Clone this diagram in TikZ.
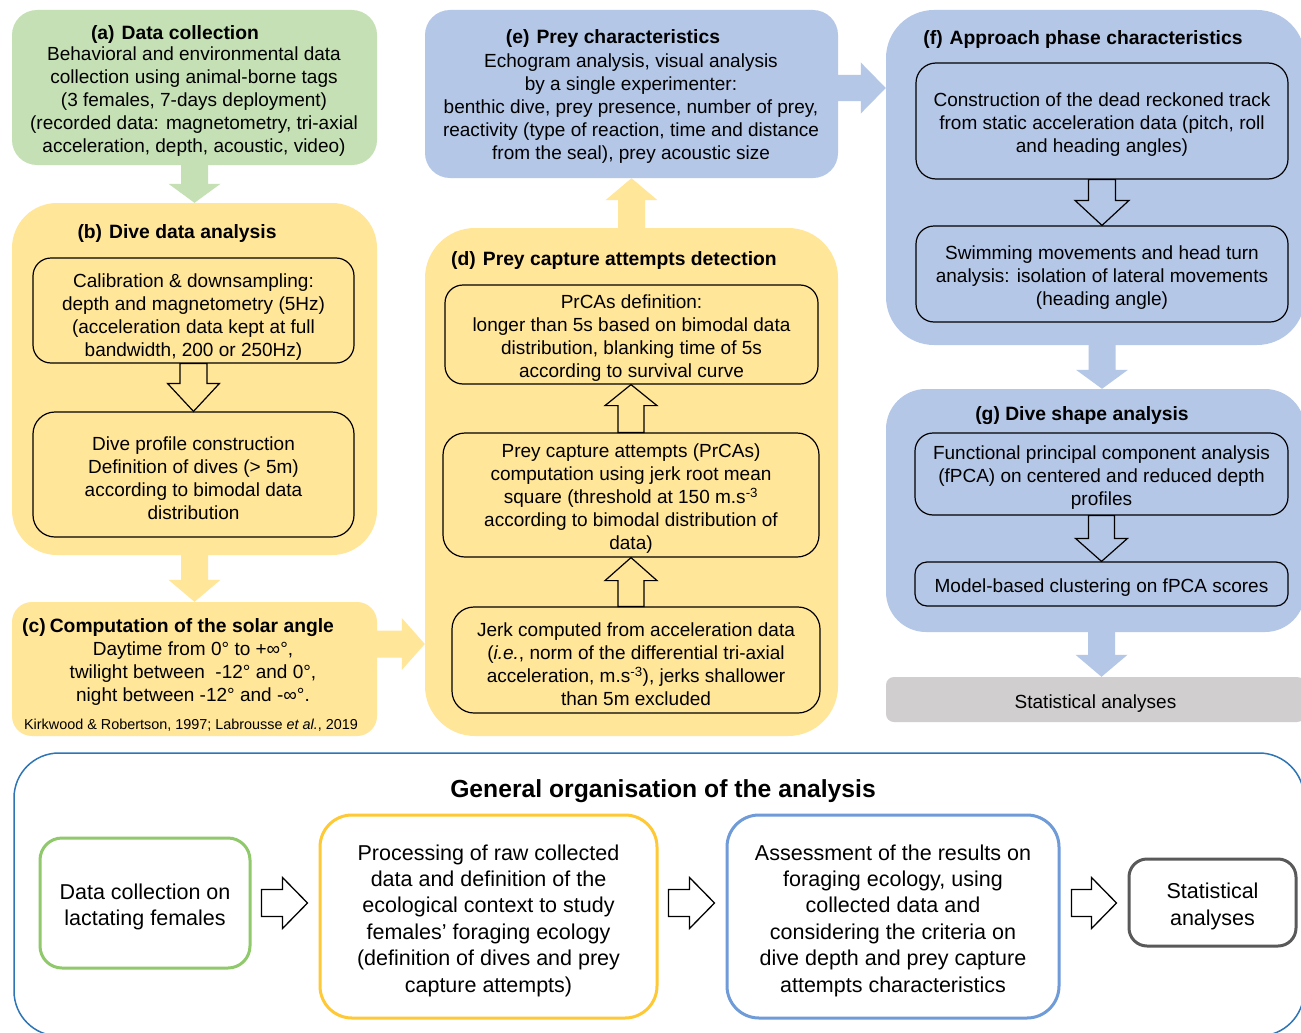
\documentclass[tikz,border=0pt]{standalone}
\usepackage{fontspec}
\setmainfont{Liberation Sans}
\usetikzlibrary{calc}
\definecolor{gfill}{HTML}{C5E0B4}
\definecolor{yfill}{HTML}{FFE699}
\definecolor{bfill}{HTML}{B4C7E7}
\definecolor{grayfill}{HTML}{D0CECE}
\definecolor{outerblue}{HTML}{2E75B6}
\definecolor{ogreen}{HTML}{8FC96B}
\definecolor{oyellow}{HTML}{FFC936}
\definecolor{oblue}{HTML}{6F9BD8}
\definecolor{ogray}{HTML}{595959}
% block arrows between two points
\newcommand\blkdown[6][]{\draw[#1] let \p1=(#2), \p2=(#3) in (\x1-#4pt,\y1) -- (\x1-#4pt,\y2+#6pt) -- (\x1-#5pt,\y2+#6pt) -- (\x1,\y2) -- (\x1+#5pt,\y2+#6pt) -- (\x1+#4pt,\y2+#6pt) -- (\x1+#4pt,\y1) -- cycle;}
\newcommand\blkup[6][]{\draw[#1] let \p1=(#2), \p2=(#3) in (\x1-#4pt,\y1) -- (\x1-#4pt,\y2-#6pt) -- (\x1-#5pt,\y2-#6pt) -- (\x1,\y2) -- (\x1+#5pt,\y2-#6pt) -- (\x1+#4pt,\y2-#6pt) -- (\x1+#4pt,\y1) -- cycle;}
\newcommand\blkright[6][]{\draw[#1] let \p1=(#2), \p2=(#3) in (\x1,\y1+#4pt) -- (\x2-#6pt,\y1+#4pt) -- (\x2-#6pt,\y1+#5pt) -- (\x2,\y1) -- (\x2-#6pt,\y1-#5pt) -- (\x2-#6pt,\y1-#4pt) -- (\x1,\y1-#4pt) -- cycle;}
% box node given by its corners, with its text set a little lower
\newcommand\boxat[8][]{\node[#1, minimum width={#5pt-#3pt}, minimum height={#6pt-#4pt}] (#2) at ({(#3+#5)/2},{(#4+#6)/2}) {};
  \node[#7] (#2-t) at ($(#2.center)+(0,4)$) {#8};}
\begin{document}
\begin{tikzpicture}[x=1pt,y=-1pt,
  every node/.style={font=\fontsize{19}{23}\selectfont, inner sep=0pt, align=center},
  titlef/.style={font=\bfseries\fontsize{19.3}{22}\selectfont},
  citef/.style={font=\fontsize{14.4}{17}\selectfont},
  lowf/.style={font=\fontsize{21.5}{26.4}\selectfont},
  gtitle/.style={font=\bfseries\fontsize{24.7}{28}\selectfont},
  inbox/.style={draw=black, line width=1.2pt, rounded corners=#1},
  inbox/.default=18pt,
  hollow/.style={draw=black, line width=1.2pt},
  hollowb/.style={draw=black, line width=1.3pt, fill=white},
  solidg/.style={fill=gfill, draw=none},
  solidy/.style={fill=yfill, draw=none},
  solidb/.style={fill=bfill, draw=none},
  lowbox/.style={line width=3pt, rounded corners=#1},
  plain/.style={},
]
\useasboundingbox (0,0) rectangle (1301,1033);
\clip (0,0) rectangle (1301,1033);
\fill[white] (0,0) rectangle (1301,1033);

% ---------- big coloured panels ----------
\boxat[fill=gfill, rounded corners=25pt]{a}{12}{10}{377}{165}{plain}{}
\boxat[fill=yfill, rounded corners=45pt]{b}{12}{203}{377}{555}{plain}{}
\boxat[fill=yfill, rounded corners=20pt]{c}{12}{602}{377}{736}{plain}{}
\boxat[fill=yfill, rounded corners=50pt]{d}{425}{228}{838}{736}{plain}{}
\boxat[fill=bfill, rounded corners=25pt]{e}{425}{10}{838}{178}{plain}{}
\boxat[fill=bfill, rounded corners=48pt]{f}{886}{10}{1305}{345}{plain}{}
\boxat[fill=bfill, rounded corners=40pt]{g}{886}{389}{1305}{632}{plain}{}
\boxat[fill=grayfill, rounded corners=8pt]{stat}{886}{677}{1305}{722}{plain}{Statistical analyses}

% ---------- (a) ----------
\node[titlef] (at) at (175,35) {(a)\hspace{7pt}Data collection};
\node (atx) at (194,102) {Behavioral and environmental data\\collection using animal-borne tags\\(3 females, 7-days deployment)\\(recorded data: magnetometry, tri-axial\\acceleration, depth, acoustic, video)};

% ---------- (b) ----------
\node[titlef] (bt) at (177,234) {(b)\hspace{7pt}Dive data analysis};
\boxat[inbox=18pt]{b1}{33}{258}{354}{363}{yshift=-3pt}{Calibration \& downsampling:\\depth and magnetometry (5Hz)\\(acceleration data kept at full\\bandwidth, 200 or 250Hz)}
\boxat[inbox=22pt]{b2}{33}{412}{354}{537}{plain}{Dive profile construction\\Definition of dives (> 5m)\\according to bimodal data\\distribution}

% ---------- (c) ----------
\node[titlef, anchor=west] (ct) at (22,628) {(c)\hspace{4pt}Computation of the solar angle};
\node (ctx) at (193,674) {Daytime from 0° to +∞°,\\twilight between\ \ -12° and 0°,\\night between -12° and -∞°.};
\node[citef] (cc) at (191,725) {Kirkwood \& Robertson, 1997; Labrousse \textit{et al.}, 2019};

% ---------- (d) ----------
\node[titlef] (dt) at (614,261) {(d)\hspace{7pt}Prey capture attempts detection};
\boxat[inbox=18pt]{d1}{445}{285}{818}{384}{plain}{PrCAs definition:\\longer than 5s based on bimodal data\\distribution, blanking time of 5s\\according to survival curve}
\boxat[inbox=22pt]{d2}{443}{433}{819}{557}{plain}{Prey capture attempts (PrCAs)\\computation using jerk root mean\\square (threshold at 150 m.s\textsuperscript{-3}\\according to bimodal distribution of\\data)}
\boxat[inbox=22pt]{d3}{452}{607}{820}{713}{plain}{Jerk computed from acceleration data\\(\textit{i.e.}, norm of the differential tri-axial\\acceleration, m.s\textsuperscript{-3}), jerks shallower\\than 5m excluded}

% ---------- (e) ----------
\node[titlef] (et) at (613,39) {(e)\hspace{7pt}Prey characteristics};
\node (etx) at (631,109) {Echogram analysis, visual analysis\\by a single experimenter:\\benthic dive, prey presence, number of prey,\\reactivity (type of reaction, time and distance\\from the seal), prey acoustic size};

% ---------- (f) ----------
\node[titlef] (ft) at (1083,40) {(f)\hspace{7pt}Approach phase characteristics};
\boxat[inbox=20pt]{f1}{916}{63}{1288}{179}{plain}{Construction of the dead reckoned track\\from static acceleration data (pitch, roll\\and heading angles)}
\boxat[inbox=18pt]{f2}{916}{226}{1288}{322}{plain}{Swimming movements and head turn\\analysis: isolation of lateral movements\\(heading angle)}

% ---------- (g) ----------
\node[titlef] (gt) at (1082,416) {(g) Dive shape analysis};
\boxat[inbox=18pt]{g1}{915}{433}{1288}{515}{plain}{Functional principal component analysis\\(fPCA) on centered and reduced depth\\profiles}
\boxat[inbox=12pt]{g2}{915}{562}{1288}{606}{plain}{Model-based clustering on fPCA scores}

% ---------- solid arrows between panels ----------
\blkdown[solidg]{a.south}{b.north}{13.5}{26}{19}
\blkdown[solidy]{b.south}{c.north}{13.5}{26}{22}
\blkright[solidy]{[yshift=25pt]c.east}{d.west}{13.5}{26}{23}
\blkup[solidy]{d.north}{e.south}{13.5}{26}{22}
\blkright[solidb]{[yshift=6pt]e.east}{f.west}{13}{25.5}{25}
\blkdown[solidb]{f1.south |- f.south}{g.north}{13.5}{26}{19}
\blkdown[solidb]{g1.south |- g.south}{stat.north}{13.5}{26}{22}

% ---------- hollow arrows inside panels ----------
\blkdown[hollow]{b1.south}{b2.north}{13.5}{26}{28}
\blkup[hollow]{d2.north |- d3.north}{d2.south}{13}{26}{23}
\blkup[hollow]{d2.north}{d1.south}{13}{26}{21}
\blkdown[hollow]{f1.south}{f2.north}{13.5}{27}{25}
\blkdown[hollow]{g1.south}{g2.north}{13}{26}{23}

% ---------- general organisation ----------
\boxat[draw=outerblue, line width=1.5pt, rounded corners=45pt]{gen}{14}{753}{1304}{1036}{plain}{}
\node[gtitle] (gent) at (663,791) {General organisation of the analysis};
\boxat[lowbox=22pt, draw=ogreen]{B1}{40}{838}{250}{968}{lowf}{Data collection on\\lactating females}
\boxat[lowbox=32pt, draw=oyellow]{B2}{320}{815}{657}{1018}{lowf}{Processing of raw collected\\data and definition of the\\ecological context to study\\females’ foraging ecology\\(definition of dives and prey\\capture attempts)}
\boxat[lowbox=32pt, draw=oblue]{B3}{727}{815}{1059}{1018}{lowf}{Assessment of the results on\\foraging ecology, using\\collected data and\\considering the criteria on\\dive depth and prey capture\\attempts characteristics}
\boxat[lowbox=18pt, draw=ogray]{B4}{1129}{859}{1296}{946}{lowf}{Statistical\\analyses}

\blkright[hollowb]{$(B1.east)+(10,0)$}{$(B2.west)+(-11,0)$}{13.5}{25.5}{25}
\blkright[hollowb]{$(B2.east |- B1.east)+(10,0)$}{$(B3.west)+(-11,0)$}{13.5}{25.5}{25}
\blkright[hollowb]{$(B3.east |- B1.east)+(11,0)$}{$(B4.west)+(-11,0)$}{13.5}{25.5}{25}
\end{tikzpicture}
\end{document}
